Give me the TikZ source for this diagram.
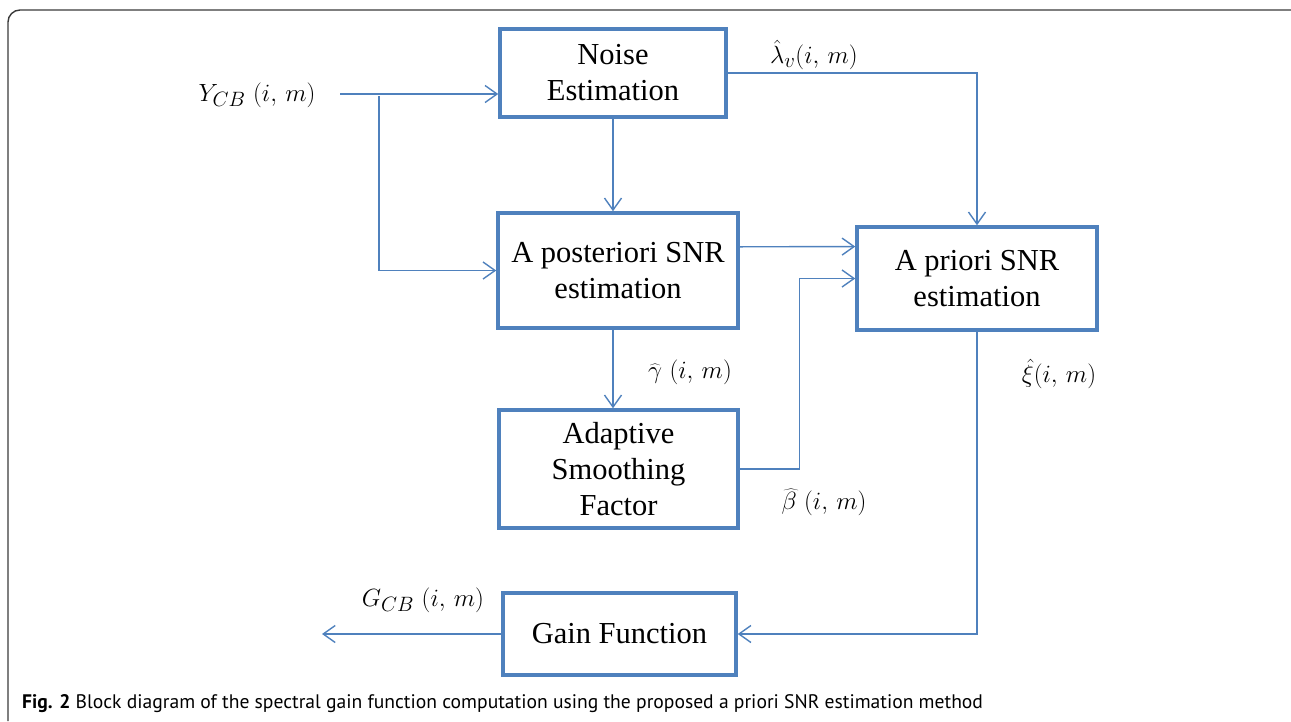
\documentclass[tikz,border=0pt]{standalone}
\usepackage{fontspec}
\setmainfont{Liberation Serif}
\newfontfamily\capfont{PT Sans}
\usetikzlibrary{arrows.meta,calc}
\definecolor{blk}{HTML}{4F81BD}
\definecolor{frm}{HTML}{3A3A3A}
\tikzset{
  blockbox/.style={draw=blk, line width=3.5pt, align=center, inner sep=0pt,
    font=\fontsize{30.5}{36}\selectfont},
  conn/.style={draw=blk, line width=1.4pt, -{Straight Barb[length=12pt,width=17pt,line width=1.4pt]}},
  lbl/.style={font=\fontsize{30}{34}\selectfont, inner sep=0pt}
}
\begin{document}
\begin{tikzpicture}[x=1pt,y=-1pt]
\useasboundingbox (0,0) rectangle (1291,721);
\draw[frm, line width=1.4pt, rounded corners=12pt] (8,721) -- (8,10) -- (1291,10);

\node[blockbox, minimum width=226pt, minimum height=88pt] (noise) at (613,73) {Noise\\Estimation};
\node[blockbox, minimum width=240pt, minimum height=115pt] (post) at (618,270.5) {A posteriori SNR\\estimation};
\node[blockbox, minimum width=240pt, minimum height=103pt] (prior) at (977,278.5) {A priori SNR\\estimation};
\node[blockbox, minimum width=239pt, minimum height=118pt] (adapt) at (618.5,469) {Adaptive\\Smoothing\\Factor};
\node[blockbox, minimum width=233pt, minimum height=82pt] (gain) at (619.5,634) {Gain Function};

\coordinate (in) at (340,94);
\coordinate (br) at (379,96);
\coordinate (out) at (322,634);

\draw[conn] (in) -- (in -| noise.west);
\draw[conn] (br) |- (post.west);
\draw[conn] (noise.south) -- (noise.south |- post.north);
\draw[conn] (noise.east) -| (prior.north);
\draw[conn] ($(post.north east)!0.3!(post.south east)$) -- ($(prior.north west)!0.2!(prior.south west)$);
\draw[conn] (post.south -| noise.south) -- (noise.south |- adapt.north);
\draw[conn] (adapt.east) -- ++(60,0) |- (prior.west);
\draw[conn] (prior.south) |- (gain.east);
\draw[conn] (gain.west) -- (out);

\node[lbl] (ly) at (257,95) {$Y_{CB}\ (i,\,m)$};
\node[lbl] (ll) at (814,55) {$\hat{\lambda}_v(i,\,m)$};
\node[lbl] (lg) at (690,372) {$\widehat{\gamma}\ (i,\,m)$};
\node[lbl] (lb) at (824,502) {$\widehat{\beta}\ (i,\,m)$};
\node[lbl] (lx) at (1059,374) {$\hat{\xi}(i,\,m)$};
\node[lbl] (lG) at (423,600) {$G_{CB}\ (i,\,m)$};

\node[anchor=west, inner sep=0pt, font=\capfont\fontsize{19.6}{22}\selectfont] (cap) at (22,704)
  {\textbf{Fig. 2} Block diagram of the spectral gain function computation using the proposed a priori SNR estimation method};
\end{tikzpicture}
\end{document}
